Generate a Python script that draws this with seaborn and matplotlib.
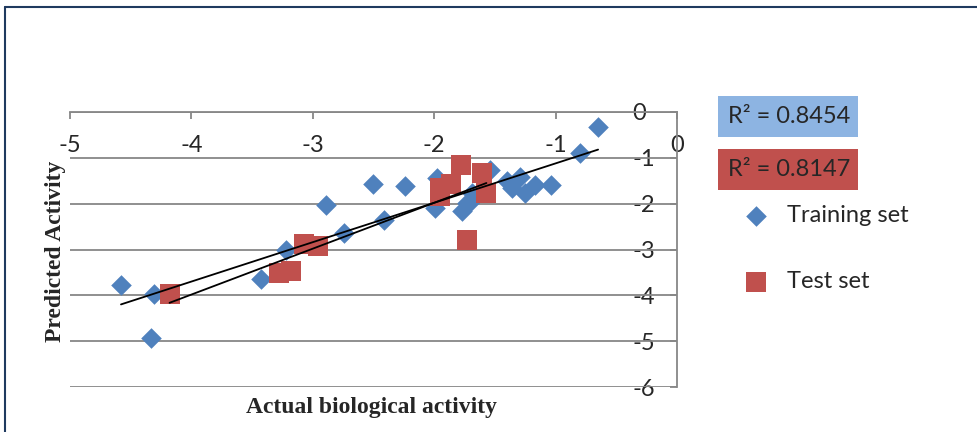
import numpy as np
import pandas as pd
import seaborn as sns
import matplotlib.pyplot as plt
from matplotlib.patches import Rectangle
from matplotlib.lines import Line2D

# training set (actual, predicted)
train_actual = [-4.58, -4.31, -4.33, -3.43, -3.22, -2.89, -2.74, -2.50, -2.41,
                -2.24, -1.98, -1.99, -1.77, -1.73, -1.70, -1.69, -1.54, -1.40,
                -1.36, -1.29, -1.25, -1.17, -1.04, -0.80, -0.65]
train_pred = [-3.78, -3.98, -4.92, -3.65, -3.00, -2.02, -2.65, -1.57, -2.35,
              -1.62, -1.44, -2.09, -2.17, -1.99, -1.95, -1.77, -1.26, -1.51,
              -1.66, -1.41, -1.77, -1.59, -1.59, -0.90, -0.32]

# test set (actual, predicted)
test_actual = [-4.18, -3.28, -3.18, -3.07, -2.96, -1.95, -1.95, -1.86, -1.78,
               -1.61, -1.57, -1.73]
test_pred = [-3.98, -3.51, -3.47, -2.89, -2.93, -1.65, -1.84, -1.57, -1.15,
             -1.33, -1.77, -2.80]

r2_labels = ["R² = 0.8454", "R² = 0.8147"]
x_ticks = [-5, -4, -3, -2, -1, 0]
y_ticks = [-6, -5, -4, -3, -2, -1, 0]

train_df = pd.DataFrame({"actual": train_actual, "pred": train_pred})
test_df = pd.DataFrame({"actual": test_actual, "pred": test_pred})

sns.set_style("white")
plt.rcParams['font.family'] = ['Lato', 'DejaVu Sans']

blue = "#4F81BD"
red = "#C0504D"
grey = "#878787"

fig = plt.figure(figsize=(9.77, 4.32), dpi=100)
ax = fig.add_axes([70 / 977, 1 - 387 / 432, 607 / 977, 275 / 432])

sns.scatterplot(data=train_df, x="actual", y="pred", marker="D", s=110,
                color=blue, linewidth=0, ax=ax, label="Training set", zorder=3)
sns.scatterplot(data=test_df, x="actual", y="pred", marker="s", s=215,
                color=red, linewidth=0, ax=ax, label="Test set", zorder=4)
sns.regplot(data=train_df, x="actual", y="pred", scatter=False, ci=None,
            truncate=True, color="black", line_kws={"linewidth": 1.3, "zorder": 5}, ax=ax)
sns.regplot(data=test_df, x="actual", y="pred", scatter=False, ci=None,
            truncate=True, color="black", line_kws={"linewidth": 1.3, "zorder": 5}, ax=ax)

ax.set_xlim(-5, 0)
ax.set_ylim(-6, 0)
ax.set_xticks(x_ticks)
ax.set_yticks(y_ticks)
ax.set_xticklabels([str(t) for t in x_ticks])
ax.set_yticklabels([str(t) for t in y_ticks])

for t in y_ticks:
    ax.axhline(t, color=grey, linewidth=1.3, zorder=1)

for side in ["left", "bottom"]:
    ax.spines[side].set_visible(False)
for side in ["top", "right"]:
    ax.spines[side].set_color(grey)
    ax.spines[side].set_linewidth(1.3)

ax.tick_params(axis="x", top=True, bottom=False, labeltop=True, labelbottom=False,
               direction="in", length=5, width=1.3, color=grey, pad=-32, labelsize=17)
ax.tick_params(axis="y", right=True, left=False, labelright=True, labelleft=False,
               direction="in", length=5, width=1.3, color=grey, pad=-32, labelsize=17)

ax.set_xlabel("")
ax.set_ylabel("")
fig.text(371 / 977, 1 - 407 / 432, "Actual biological activity", family="Liberation Serif",
         weight="bold", fontsize=17, ha="center", va="center")
fig.text(55 / 977, 1 - 251 / 432, "Predicted Activity", family="Liberation Serif",
         weight="bold", fontsize=17, ha="center", va="center", rotation=90)

# R² boxes
box_tops = [96, 149]
for lab, col, top in zip(r2_labels, ["#8DB4E2", red], box_tops):
    fig.patches.append(Rectangle((718 / 977, 1 - (top + 41) / 432), 140 / 977, 41 / 432,
                                 transform=fig.transFigure, facecolor=col, edgecolor="none"))
    fig.text(789 / 977, 1 - (top + 20.5) / 432, lab, fontsize=17, ha="center", va="center")

ax.legend(loc="upper left", bbox_to_anchor=(732 / 977, 1 - 205 / 432),
          bbox_transform=fig.transFigure, frameon=False, fontsize=17,
          labelspacing=1.9, handletextpad=0.33, borderaxespad=0, borderpad=0)

# outer frame
fig.add_artist(Line2D([5 / 977, 1], [1 - 7 / 432, 1 - 7 / 432], transform=fig.transFigure,
                      color="#1F3A5F", linewidth=1.5))
fig.add_artist(Line2D([5 / 977, 5 / 977], [0, 1 - 7 / 432], transform=fig.transFigure,
                      color="#1F3A5F", linewidth=1.5))

fig.savefig("out.png", dpi=100)
